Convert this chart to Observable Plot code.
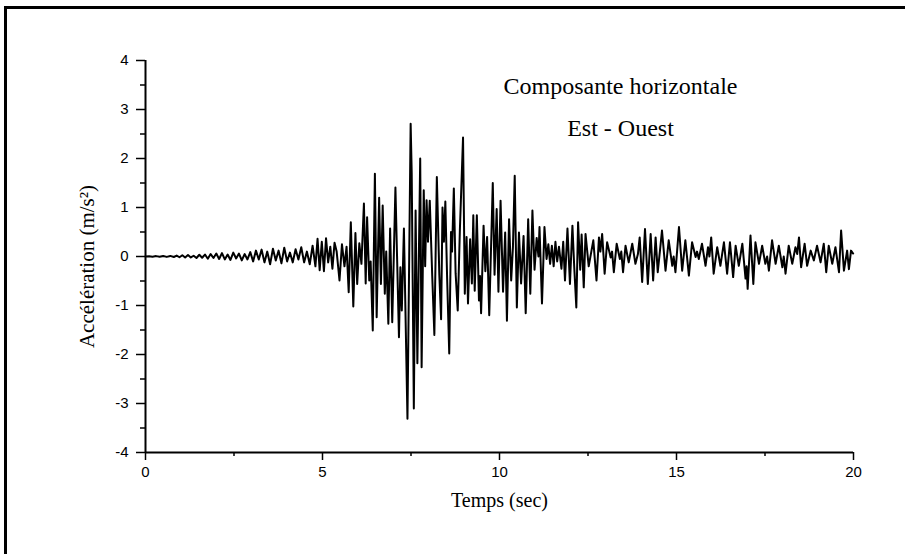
<!DOCTYPE html>
<html>
<head>
<meta charset="utf-8">
<script src="https://cdn.jsdelivr.net/npm/d3@7"></script>
<script src="https://cdn.jsdelivr.net/npm/@observablehq/plot@0.6"></script>
<style>
  html, body { margin: 0; padding: 0; background: #fff; overflow: hidden; }
  #wrap { position: relative; width: 905px; height: 554px; }
  #border { position: absolute; left: 4px; top: 6px; width: 1200px; height: 1200px;
            border-left: 3px solid #000; border-top: 3px solid #000; }
  #chart { position: absolute; left: 0; top: 0; }
</style>
</head>
<body>
<div id="wrap"><div id="border"></div><div id="chart"></div></div>
<script>
// [time (s), acceleration (m/s²)]
const quietPhase = [
  [0.00,0.000],[0.10,0.005],[0.20,-0.005],[0.30,0.008],[0.40,-0.006],[0.50,0.010],[0.60,-0.008],
  [0.70,0.012],[0.80,-0.010],[0.88,0.020],[0.96,-0.015],[1.04,0.025],[1.12,-0.020],[1.20,0.030],
  [1.28,-0.020],[1.36,0.015],[1.44,-0.030],[1.52,0.035],[1.60,-0.025],[1.68,0.040],[1.76,-0.045],
  [1.84,0.050],[1.92,-0.030],[2.00,0.060],[2.08,-0.050],[2.16,0.070],[2.24,-0.060],[2.32,0.040],
  [2.40,-0.070],[2.48,0.080],[2.56,-0.040],[2.64,0.060],[2.72,-0.080],[2.80,0.050],[2.88,-0.060],
  [2.96,0.090],[3.04,-0.100],[3.12,0.120],[3.20,-0.060],[3.28,0.140],[3.36,-0.120],[3.44,0.100],
  [3.52,-0.160],[3.60,0.160],[3.68,-0.080],[3.76,0.120],[3.84,-0.140],[3.92,0.180],[4.00,-0.100],
  [4.08,0.080],[4.16,-0.120],[4.24,0.150],[4.32,-0.060],[4.40,0.190],[4.48,-0.120],[4.56,0.100],
  [4.64,-0.160],[4.72,0.220]
];
const strongPhase = [
  [4.80,-0.20],[4.86,0.36],[4.92,-0.28],[4.98,0.30],[5.04,-0.30],[5.10,0.37],[5.16,-0.12],[5.22,0.20],
  [5.28,-0.25],[5.34,0.28],[5.40,0.10],[5.48,-0.49],[5.55,0.25],[5.62,-0.20],[5.68,0.20],[5.74,-0.73],
  [5.80,0.70],[5.87,-1.02],[5.93,0.48],[5.98,-0.56],[6.04,0.27],[6.10,-0.15],[6.17,1.08],[6.22,-0.55],
  [6.26,0.80],[6.32,-0.49],[6.36,-0.10],[6.42,-1.51],[6.48,1.69],[6.53,-1.24],[6.60,1.20],[6.65,-0.56],
  [6.70,1.04],[6.76,-0.76],[6.80,0.10],[6.86,-1.37],[6.91,0.57],[6.97,-1.34],[7.06,1.41],[7.16,-1.65],
  [7.20,-0.22],[7.24,-1.10],[7.30,0.57],[7.40,-3.31],[7.49,2.71],[7.52,1.70],[7.58,-3.10],[7.63,0.94],
  [7.68,-2.18],[7.76,2.00],[7.80,-2.26],[7.86,1.35],[7.90,-0.20],[7.94,1.15],[7.98,0.30],[8.03,1.14],
  [8.10,-0.40],[8.16,-1.60],[8.23,1.62],[8.30,-0.37],[8.35,-1.28],[8.39,1.00],[8.43,0.30],[8.47,1.12],
  [8.52,-0.43],[8.58,-1.98],[8.63,0.50],[8.66,0.10],[8.71,1.39],[8.76,-0.34],[8.82,-1.10],[8.88,0.53],
  [8.97,2.43],[9.02,-0.76],[9.07,0.40],[9.11,-0.96],[9.17,0.35],[9.22,-0.55],[9.26,0.84],[9.30,-0.70],
  [9.36,0.84],[9.42,-0.90],[9.45,-0.40],[9.48,-1.16],[9.55,0.63],[9.60,-0.30],[9.65,0.40],[9.71,-1.20],
  [9.81,1.50],[9.86,-0.37],[9.92,0.97],[9.97,-0.72],[10.03,1.14],[10.10,-0.72],[10.16,0.49],[10.21,-1.31],
  [10.27,0.76],[10.33,-0.49],[10.38,0.20],[10.43,1.65],[10.49,-1.04],[10.55,0.49],[10.61,-0.55],[10.68,0.42],
  [10.74,-1.16],[10.81,0.76],[10.87,-0.76],[10.93,0.94],[10.99,-0.27],[11.05,0.38],[11.10,0.00],[11.13,0.60],
  [11.20,-0.96],[11.27,0.60],[11.33,-0.05],[11.38,0.25],[11.43,-0.15],[11.48,0.22],[11.53,-0.20],[11.58,0.30],
  [11.63,-0.10],[11.68,0.20],[11.75,-0.25],[11.80,0.30],[11.85,-0.49],[11.92,0.57],[11.99,-0.56],[12.06,0.63],
  [12.11,-0.20],[12.17,-1.04],[12.22,0.70],[12.28,-0.27],[12.32,0.45],[12.38,-0.63]
];
const codaPhase = [
  [12.43,0.46],[12.52,-0.20],[12.65,0.33],[12.74,-0.49],[12.81,0.39],[12.85,0.10],[12.90,0.46],[12.97,-0.35],
  [13.04,0.29],[13.14,-0.02],[13.18,0.10],[13.23,-0.32],[13.31,0.26],[13.40,-0.05],[13.44,0.10],[13.49,-0.32],
  [13.56,0.22],[13.65,-0.12],[13.75,0.26],[13.84,-0.15],[13.91,0.05],[13.96,0.39],[14.03,-0.52],[14.11,0.56],
  [14.19,-0.56],[14.27,0.46],[14.34,-0.49],[14.41,0.39],[14.47,-0.32],[14.53,0.10],[14.59,0.53],[14.69,-0.29],
  [14.78,0.33],[14.88,-0.19],[14.92,0.00],[14.97,-0.32],[15.07,0.60],[15.16,-0.29],[15.25,0.33],[15.35,-0.39],
  [15.44,0.29],[15.54,-0.01],[15.58,0.10],[15.63,-0.05],[15.72,0.26],[15.82,-0.19],[15.89,0.19],[15.93,0.00],
  [15.98,0.39],[16.05,-0.35],[16.15,0.19],[16.24,-0.19],[16.34,0.29],[16.43,-0.35],[16.51,0.29],[16.60,-0.42],
  [16.67,0.22],[16.76,-0.19],[16.86,0.26],[16.95,-0.45],[16.98,-0.20],[17.01,-0.66],[17.09,0.43],[17.17,-0.56],
  [17.23,0.29],[17.33,-0.15],[17.42,0.22],[17.51,-0.15],[17.56,0.00],[17.61,-0.29],[17.70,0.33],[17.80,-0.15],
  [17.89,0.22],[17.99,-0.22],[18.03,0.00],[18.08,-0.35],[18.17,0.22],[18.27,-0.15],[18.36,0.19],[18.41,0.05],
  [18.46,0.39],[18.52,-0.22],[18.62,0.26],[18.69,-0.19],[18.79,0.12],[18.88,-0.08],[18.97,0.22],[19.07,-0.12],
  [19.16,0.26],[19.23,-0.32],[19.30,0.22],[19.40,-0.15],[19.49,0.19],[19.59,-0.32],[19.65,0.53],[19.73,-0.29],
  [19.82,0.12],[19.87,-0.26],[19.93,0.12],[19.99,0.06]
];
const xTicks = [0, 5, 10, 15, 20];
const xMinorTicks = [2.5, 7.5, 12.5, 17.5];
const yTicks = [-4, -3, -2, -1, 0, 1, 2, 3, 4];
const yMinorTicks = [-3.5, -2.5, -1.5, -0.5, 0.5, 1.5, 2.5, 3.5];
const xTitle = "Temps (sec)";
const yTitle = "Accélération (m/s²)";
const notes = ["Composante horizontale", "Est - Ouest"];

const record = [...quietPhase, ...strongPhase, ...codaPhase].map(([t, a]) => ({t, a}));

const serif = "'Liberation Serif', 'Times New Roman', serif";
const sans = "'Liberation Sans', Arial, sans-serif";

const chart = Plot.plot({
  width: 905,
  height: 554,
  marginLeft: 145,
  marginRight: 52,
  marginTop: 60,
  marginBottom: 102,
  x: {domain: [0, 20]},
  y: {domain: [-4, 4]},
  style: {background: "transparent", color: "#000", fontFamily: sans, fontSize: "15px"},
  marks: [
    Plot.axisX(xTicks, {tickSize: 8, tickPadding: 6, strokeWidth: 1.5, fontSize: 15, label: null, tickFormat: d => String(d)}),
    Plot.axisX(xMinorTicks, {tickSize: 4, strokeWidth: 1.5, label: null, tickFormat: () => ""}),
    Plot.axisY(yTicks, {tickSize: 9, tickPadding: 8, strokeWidth: 1.5, fontSize: 15, label: null, tickFormat: d => String(d)}),
    Plot.axisY(yMinorTicks, {tickSize: 5, strokeWidth: 1.5, label: null, tickFormat: () => ""}),
    Plot.ruleX([0], {stroke: "#000", strokeWidth: 2}),
    Plot.ruleY([-4], {stroke: "#000", strokeWidth: 2}),
    Plot.line(record, {x: "t", y: "a", stroke: "#000", strokeWidth: 2, strokeLinejoin: "round"}),
    Plot.text([yTitle], {frameAnchor: "left", textAnchor: "middle", lineAnchor: "middle", rotate: -90, dx: -58, dy: 10, fontFamily: serif, fontSize: 21, fill: "#000"}),
    Plot.text([xTitle], {frameAnchor: "bottom", lineAnchor: "middle", dy: 48, fontFamily: serif, fontSize: 20, fill: "#000"}),
    Plot.text([notes[0]], {frameAnchor: "top", lineAnchor: "middle", dx: 121, dy: 26, fontFamily: serif, fontSize: 24, fill: "#000"}),
    Plot.text([notes[1]], {frameAnchor: "top", lineAnchor: "middle", dx: 121, dy: 68, fontFamily: serif, fontSize: 24, fill: "#000"})
  ]
});
document.getElementById("chart").appendChild(chart);
</script>
</body>
</html>
